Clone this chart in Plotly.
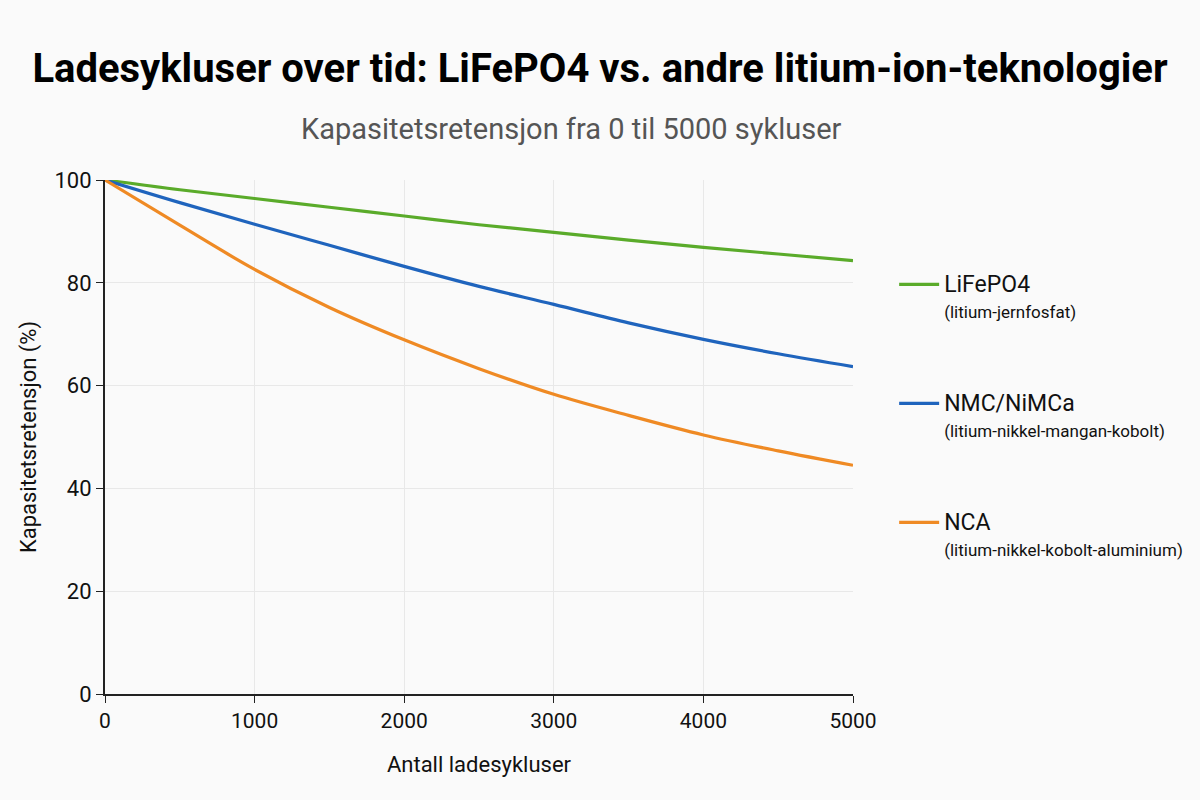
import plotly.graph_objects as go

cycles = [0, 500, 1000, 1500, 2000, 2500, 3000, 3500, 4000, 4500, 5000]
lifepo4 = [100, 98.1, 96.4, 94.7, 93.0, 91.3, 89.8, 88.3, 86.9, 85.6, 84.3]
nmc = [100, 95.6, 91.4, 87.3, 83.2, 79.3, 75.8, 72.2, 69.0, 66.2, 63.7]
nca = [100, 91.2, 82.6, 75.2, 68.9, 63.3, 58.3, 54.2, 50.4, 47.3, 44.5]

names = ["LiFePO4", "NMC/NiMCa", "NCA"]
subnames = ["(litium-jernfosfat)", "(litium-nikkel-mangan-kobolt)", "(litium-nikkel-kobolt-aluminium)"]
colors = ["#5aab2a", "#1f64bd", "#ef8a24"]
series = [lifepo4, nmc, nca]

FONT = "Liberation Sans Narrow, Roboto, Arial Narrow, sans-serif"

fig = go.Figure()
for n, s, vals, c in zip(names, subnames, series, colors):
    fig.add_trace(go.Scatter(
        x=cycles, y=vals, mode="lines", line=dict(color=c, width=3.2, shape="spline"),
        name=f"<span style='font-size:23px'>{n}</span><br><span style='font-size:17px'>{s}</span>",
        legendgroup=n,
    ))

fig.update_layout(
    width=1200, height=800,
    paper_bgcolor="#fafafa", plot_bgcolor="#fafafa",
    margin=dict(l=105, r=347, t=180, b=106),
    font=dict(family=FONT, color="#111111", size=20),
    title=dict(text="<b>Ladesykluser over tid: LiFePO4 vs. andre litium-ion-teknologier</b>",
               x=0.5, xanchor="center", y=0.915, yanchor="middle",
               font=dict(size=40, family=FONT, color="#000000")),
    showlegend=True,
    legend=dict(x=1.055, xanchor="left", y=0.835, yanchor="top",
                bgcolor="rgba(0,0,0,0)", tracegroupgap=64, traceorder="grouped",
                valign="top", itemwidth=40, font=dict(size=20, family=FONT)),
    annotations=[dict(text="Kapasitetsretensjon fra 0 til 5000 sykluser", xref="paper", yref="paper",
                      x=0.623, y=1.0, xanchor="center", yanchor="bottom", yshift=32, showarrow=False,
                      font=dict(size=29, color="#555555", family=FONT))],
)
fig.update_xaxes(range=[0, 5000], tickvals=[0, 1000, 2000, 3000, 4000, 5000],
                 showline=True, linecolor="#222222", linewidth=2, ticks="outside", ticklen=7,
                 tickcolor="#222222", showgrid=True, gridcolor="#e8e8e8", zeroline=False,
                 tickfont=dict(size=21),
                 title=dict(text="Antall ladesykluser", font=dict(size=22), standoff=24))
fig.update_yaxes(range=[0, 100], tickvals=[0, 20, 40, 60, 80, 100],
                 showline=True, linecolor="#222222", linewidth=2, ticks="outside", ticklen=7,
                 tickcolor="#222222", showgrid=True, gridcolor="#e8e8e8", zeroline=False,
                 tickfont=dict(size=22),
                 title=dict(text="Kapasitetsretensjon (%)", font=dict(size=22), standoff=12))

fig.write_html("out.html")
